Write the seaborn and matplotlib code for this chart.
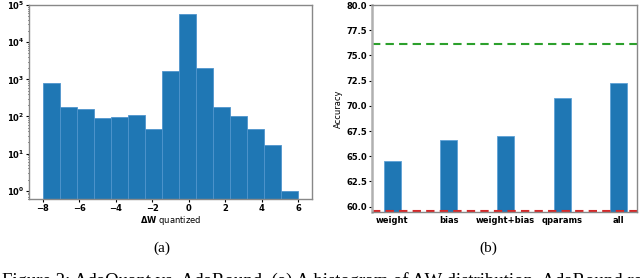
import numpy as np
import pandas as pd
import matplotlib
matplotlib.use("Agg")
import matplotlib.pyplot as plt
import seaborn as sns

# histogram of quantized delta W (15 bins from -8 to 6)
bin_edges = np.linspace(-8, 6, 16)
bin_counts = [784, 185, 160, 90, 97, 113, 45, 1683, 58500, 2066, 185, 106, 46, 17, 1]

# accuracy per optimized parameter group
groups = ["weight", "bias", "weight+bias", "qparams", "all"]
accuracy = [64.5, 66.6, 67.0, 70.8, 72.3]
fp_acc = 76.1
base_acc = 59.6

plt.rcParams["font.weight"] = "bold"
plt.rcParams["axes.labelweight"] = "normal"

fig = plt.figure(figsize=(6.4, 2.78), dpi=100)
ax1 = fig.add_axes([0.0453, 0.284, 0.442, 0.698])
ax2 = fig.add_axes([0.581, 0.2385, 0.414, 0.7435])

# (a) histogram
hist_df = pd.DataFrame({"dw": (bin_edges[:-1] + bin_edges[1:]) / 2,
                        "count": bin_counts})
sns.histplot(data=hist_df, x="dw", weights="count", bins=list(bin_edges), ax=ax1,
             color="#1f77b4", alpha=1, edgecolor="#4f94cd", linewidth=0.6)
ax1.set_yscale("log")
ax1.set_ylim(0.6, 1e5)
ax1.set_xlim(-8.75, 6.75)
ax1.set_xticks([-8, -6, -4, -2, 0, 2, 4, 6])
ax1.set_xlabel(r"$\mathbf{\Delta W}$ quantized", fontsize=6, labelpad=1)
ax1.set_ylabel("")
ax1.tick_params(labelsize=6, length=2, pad=1.5)
ax1.tick_params(which="minor", length=1)

# (b) bar chart
sns.barplot(x=groups, y=accuracy, ax=ax2, color="#1f77b4", saturation=1,
            width=0.3, edgecolor="#5fa2d6", linewidth=0.6)
ax2.axhline(fp_acc, color="#2ca02c", ls="--", lw=1.5, dashes=(4, 2.5))
ax2.axhline(base_acc, color="#d62728", ls="--", lw=1.5, dashes=(4, 2.5))
ax2.set_ylim(59.5, 80)
ax2.set_xlim(-0.36, 4.32)
ax2.set_yticks([60, 62.5, 65, 67.5, 70, 72.5, 75, 77.5, 80])
ax2.set_ylabel("Accuracy", fontsize=6, fontweight="normal", labelpad=2)
ax2.set_xlabel("")
ax2.tick_params(labelsize=6, length=2, pad=1.5)
ax2.tick_params(axis="x", length=0, pad=3)

for ax in (ax1, ax2):
    for s in ax.spines.values():
        s.set_color("#888888")
        s.set_linewidth(1)
ax2.spines["left"].set_color("#b0b0b0")
ax2.spines["left"].set_linewidth(1.8)

fig.text(0.2527, 0.108, "(a)", ha="center", va="center",
         family="Liberation Serif", fontsize=11, fontweight="normal")
fig.text(0.7625, 0.108, "(b)", ha="center", va="center",
         family="Liberation Serif", fontsize=11, fontweight="normal")
# caption, cut by the lower edge as in the source crop
fig.text(0.003, -0.03,
         "Figure 2: AdaQuant vs. AdaRound. (a) A histogram of \u0394W distribution. AdaRound restricts",
         ha="left", va="baseline", family="Liberation Serif", fontsize=13.5,
         fontweight="normal")

fig.savefig("out.png", dpi=100)
